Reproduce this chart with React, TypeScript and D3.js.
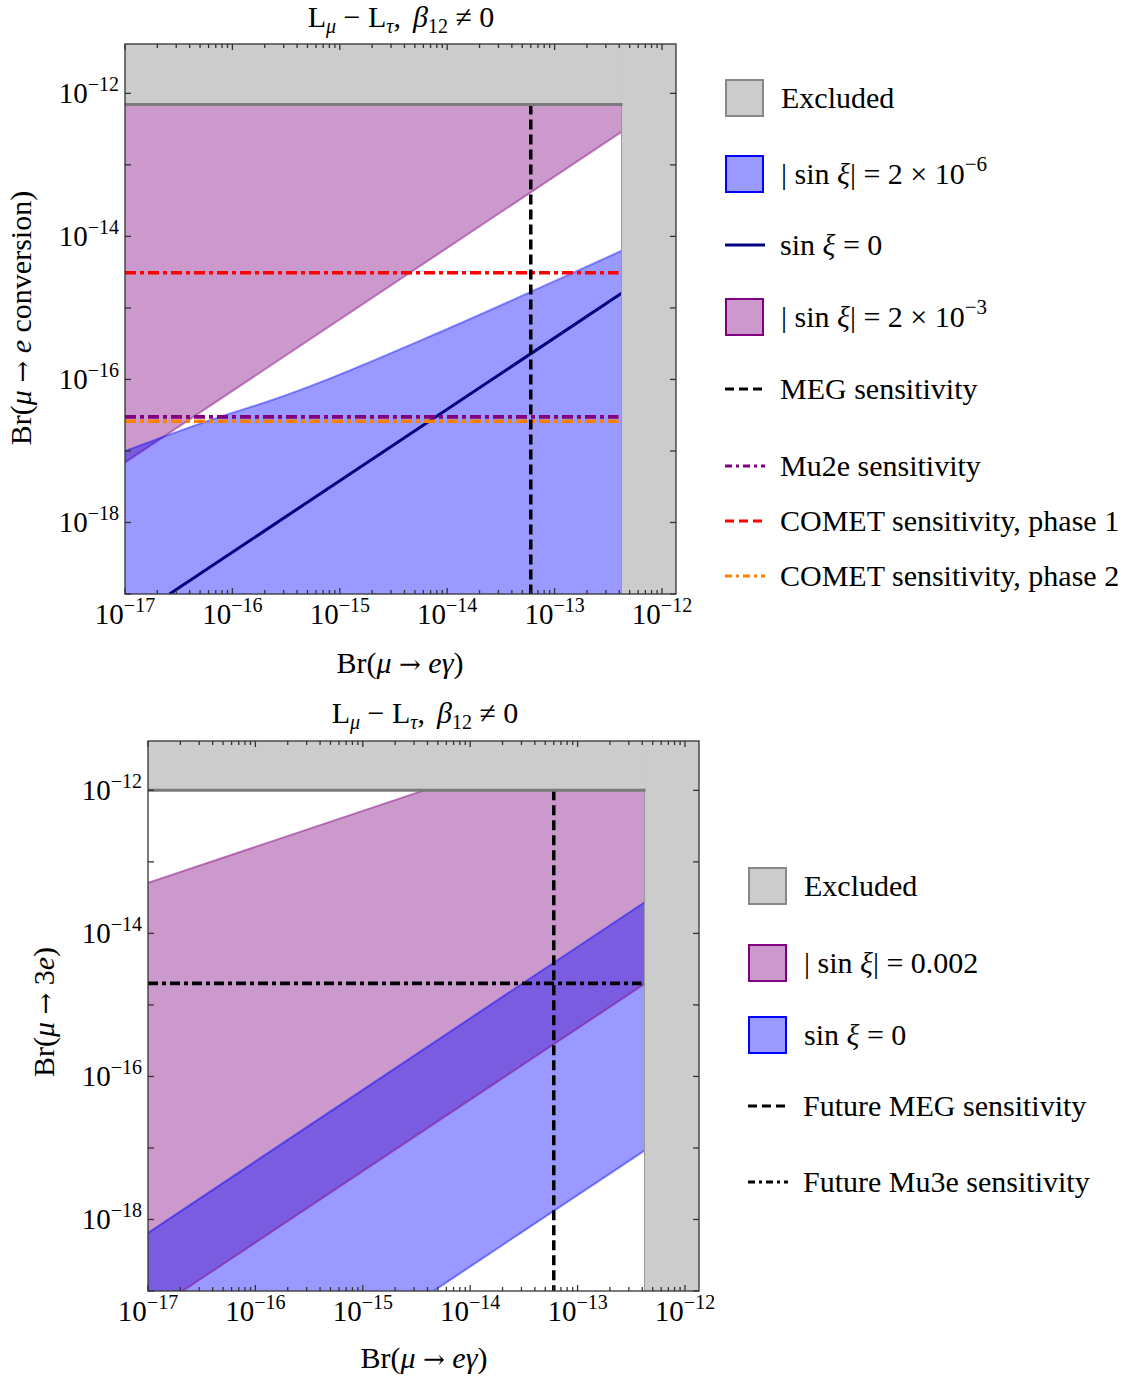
import React from 'react';
import * as d3 from 'd3';

const W = 1136;
const H = 1381;
const FONT = "'Liberation Serif', 'Times New Roman', serif";
const ARROW_FONT = "'DejaVu Serif', serif";

// axis domains and ticks
const xDomain = [1e-17, 1.35e-12];
const yDomain = [1e-19, 4.9e-12];
const xMajorExps = [-17, -16, -15, -14, -13, -12];
const yTickExps = [-19, -18, -17, -16, -15, -14, -13, -12];
const yLabelExps = [-18, -16, -14, -12];
const minorMults = [2, 3, 4, 5, 6, 7, 8, 9];

// experimental limits / sensitivities
const megLimit = 4.2e-13;
const megFuture = 6e-14;
const sindrumConv = 7e-13;
const sindrum3e = 1e-12;
const mu2eSens = 3e-17;
const comet1Sens = 3.1e-15;
const comet2Sens = 2.6e-17;
const mu3eSens = 2e-15;

// top panel: mu -> e conversion
const blueUpperX = [1e-17, 7.4e-17, 2.2e-16, 8.6e-15, 5.9e-14, 4.2e-13];
const blueUpperY = [1.0e-17, 2.95e-17, 5.0e-17, 4.6e-16, 1.66e-15, 6.3e-15];
const navyX = [2.6e-17, 4.2e-13];
const navyY = [1e-19, 1.6e-15];
const purpleLowX = [1e-17, 4.2e-13];
const purpleLowY = [6.9e-18, 2.9e-13];

// bottom panel: mu -> 3e
const purpleUpX = [1e-17, 3.7e-15, 4.2e-13];
const purpleUpY = [5.1e-14, 1e-12, 1e-12];
const purpleLoX = [2.1e-17, 4.2e-13];
const purpleLoY = [1e-19, 1.97e-15];
const blueUpX = [1e-17, 4.2e-13];
const blueUpY = [6.5e-19, 2.73e-14];
const blueLoX = [4.55e-15, 4.2e-13];
const blueLoY = [1e-19, 9.2e-18];

const GRAY = '#cccccc';
const PURPLE_FILL = 'rgba(128,0,128,0.4)';
const BLUE_FILL = 'rgba(0,0,255,0.4)';
const FRAME = '#333333';

const zip = (xs: number[], ys: number[]) => xs.map((x, i) => [x, ys[i]] as [number, number]);

function Pow({ x, y, exp, anchor }: { x: number; y: number; exp: number; anchor: string }) {
  return (
    <text x={x} y={y} fontSize={29} textAnchor={anchor} fontFamily={FONT} fill="#000">
      10
      <tspan fontSize={20} dy={-12}>{'\u2212' + Math.abs(exp)}</tspan>
    </text>
  );
}

function Frame({ x, y, left, top, w, h }: any) {
  const ticks: any[] = [];
  const bottom = top + h;
  const right = left + w;
  xMajorExps.forEach((e) => {
    const v = Math.pow(10, e);
    if (v >= xDomain[0] && v <= xDomain[1]) {
      const px = x(v);
      ticks.push(<line key={'xb' + e} x1={px} x2={px} y1={bottom} y2={bottom - 6} />);
      ticks.push(<line key={'xt' + e} x1={px} x2={px} y1={top} y2={top + 6} />);
    }
    minorMults.forEach((m) => {
      const mv = m * v;
      if (mv > xDomain[0] && mv < xDomain[1]) {
        const mx = x(mv);
        ticks.push(<line key={'mb' + e + m} x1={mx} x2={mx} y1={bottom} y2={bottom - 4} />);
        ticks.push(<line key={'mt' + e + m} x1={mx} x2={mx} y1={top} y2={top + 4} />);
      }
    });
  });
  yTickExps.forEach((e) => {
    const py = y(Math.pow(10, e));
    ticks.push(<line key={'yl' + e} x1={left} x2={left + 6} y1={py} y2={py} />);
    ticks.push(<line key={'yr' + e} x1={right} x2={right - 6} y1={py} y2={py} />);
  });
  return (
    <g stroke={FRAME} strokeWidth={1.3} fill="none">
      {ticks}
      <rect x={left} y={top} width={w} height={h} />
    </g>
  );
}

function Labels({ x, y, left, top, h }: any) {
  const bottom = top + h;
  return (
    <g>
      {xMajorExps.map((e) => (
        <Pow key={'xl' + e} x={x(Math.pow(10, e))} y={bottom + 30} exp={e} anchor="middle" />
      ))}
      {yLabelExps.map((e) => (
        <Pow key={'yl' + e} x={left - 6} y={y(Math.pow(10, e)) + 10} exp={e} anchor="end" />
      ))}
    </g>
  );
}

function Title({ cx, yb }: { cx: number; yb: number }) {
  return (
    <text x={cx} y={yb} fontSize={30} textAnchor="middle" fontFamily={FONT}>
      L<tspan fontSize={20} fontStyle="italic" dy={6}>μ</tspan>
      <tspan dy={-6}> − L</tspan>
      <tspan fontSize={20} fontStyle="italic" dy={6}>τ</tspan>
      <tspan dy={-6}>,</tspan>
      <tspan fontStyle="italic" dx={12}>β</tspan>
      <tspan fontSize={20} dy={6}>12</tspan>
      <tspan dy={-6}> ≠ 0</tspan>
    </text>
  );
}

function XLabel({ cx, yb }: { cx: number; yb: number }) {
  return (
    <text x={cx} y={yb} fontSize={30} textAnchor="middle" fontFamily={FONT}>
      Br(<tspan fontStyle="italic">μ</tspan> <tspan fontFamily={ARROW_FONT} fontSize={26}>→</tspan> <tspan fontStyle="italic">eγ</tspan>)
    </text>
  );
}

function LegendBox({ x, yc, fill, stroke, label }: any) {
  return (
    <g>
      <rect x={x} y={yc - 18} width={37} height={36} fill={fill} stroke={stroke} strokeWidth={2} />
      <text x={x + 55} y={yc + 10} fontSize={30} fontFamily={FONT}>{label}</text>
    </g>
  );
}

function LegendLine({ x, yc, stroke, dash, label }: any) {
  return (
    <g>
      <line x1={x} x2={x + 40} y1={yc} y2={yc} stroke={stroke} strokeWidth={3} strokeDasharray={dash} />
      <text x={x + 55} y={yc + 10} fontSize={30} fontFamily={FONT}>{label}</text>
    </g>
  );
}

const SinXi = ({ value, sup, abs }: any) => (
  <>
    {abs ? '| sin ' : 'sin '}
    <tspan fontStyle="italic">ξ</tspan>
    {abs ? '| = ' : ' = '}
    {value}
    {sup ? <tspan fontSize={21} dy={-13}>{sup}</tspan> : null}
  </>
);

function TopPanel() {
  const left = 125, top = 44, w = 551, h = 550;
  const x = d3.scaleLog().domain(xDomain).range([left, left + w]);
  const y = d3.scaleLog().domain(yDomain).range([top + h, top]);
  const yBot = y(yDomain[0]);
  const line = d3.line<[number, number]>().x((d) => x(d[0])).y((d) => y(d[1]));

  const purpleArea = d3
    .area<[number, number]>()
    .x((d) => x(d[0]))
    .y0(() => y(sindrumConv))
    .y1((d) => y(d[1]))(zip(purpleLowX, purpleLowY)) as string;

  const blueCurve = d3
    .line<[number, number]>()
    .x((d) => x(d[0]))
    .y((d) => y(d[1]))
    .curve(d3.curveMonotoneX);
  const blueArea = d3
    .area<[number, number]>()
    .x((d) => x(d[0]))
    .y0(() => yBot)
    .y1((d) => y(d[1]))
    .curve(d3.curveMonotoneX)(zip(blueUpperX, blueUpperY)) as string;

  const xm = x(megLimit);
  const hLines = [
    { v: comet1Sens, c: '#ff0000' },
    { v: mu2eSens, c: '#800080' },
    { v: comet2Sens, c: '#ff8000' },
  ];

  return (
    <g>
      <defs>
        <clipPath id="clipTop">
          <rect x={left} y={top} width={w} height={h} />
        </clipPath>
      </defs>
      <g clipPath="url(#clipTop)">
        <path d={purpleArea} fill={PURPLE_FILL} />
        <path d={line(zip(purpleLowX, purpleLowY)) as string} stroke="#800080" strokeOpacity={0.45} strokeWidth={2} fill="none" />
        <path d={blueArea} fill={BLUE_FILL} />
        <path d={blueCurve(zip(blueUpperX, blueUpperY)) as string} stroke="#0000ff" strokeOpacity={0.4} strokeWidth={2} fill="none" />
        <path d={line(zip(navyX, navyY)) as string} stroke="#000080" strokeWidth={3} fill="none" />
        {hLines.map((l, i) => (
          <line key={i} x1={left} x2={xm - 3} y1={y(l.v)} y2={y(l.v)} stroke={l.c} strokeWidth={3.6} strokeDasharray="11,4,4,4" />
        ))}
        <line x1={x(megFuture)} x2={x(megFuture)} y1={y(sindrumConv)} y2={yBot} stroke="#000" strokeWidth={3.5} strokeDasharray="10,5" />
        <rect x={left} y={top} width={w} height={y(sindrumConv) - top} fill={GRAY} />
        <rect x={xm} y={top} width={left + w - xm} height={h} fill={GRAY} />
        <line x1={xm} x2={xm} y1={y(sindrumConv)} y2={yBot} stroke="#999" strokeWidth={1} />
        <line x1={left} x2={xm + 1} y1={y(sindrumConv)} y2={y(sindrumConv)} stroke="#7a7a7a" strokeWidth={3} />
      </g>
      <Frame x={x} y={y} left={left} top={top} w={w} h={h} />
      <Labels x={x} y={y} left={left} top={top} h={h} />
      <Title cx={401} yb={27} />
      <XLabel cx={400} yb={673} />
      <text transform="translate(31,318) rotate(-90)" fontSize={30} textAnchor="middle" fontFamily={FONT}>
        Br(<tspan fontStyle="italic">μ</tspan> <tspan fontFamily={ARROW_FONT} fontSize={26}>→</tspan> <tspan fontStyle="italic">e</tspan> conversion)
      </text>
      <LegendBox x={726} yc={98} fill={GRAY} stroke="#888" label="Excluded" />
      <LegendBox x={726} yc={174} fill="#9999ff" stroke="#0000ff" label={<SinXi abs value="2 × 10" sup="−6" />} />
      <LegendLine x={725} yc={245} stroke="#000080" label={<SinXi value="0" />} />
      <LegendBox x={726} yc={317} fill="#cc99cc" stroke="#800080" label={<SinXi abs value="2 × 10" sup="−3" />} />
      <LegendLine x={725} yc={389} stroke="#000" dash="9,5" label="MEG sensitivity" />
      <LegendLine x={725} yc={466} stroke="#800080" dash="7,4,3,4" label="Mu2e sensitivity" />
      <LegendLine x={725} yc={521} stroke="#ff0000" dash="9,5" label="COMET sensitivity, phase 1" />
      <LegendLine x={725} yc={576} stroke="#ff8000" dash="7,4,3,4" label="COMET sensitivity, phase 2" />
    </g>
  );
}

function BottomPanel() {
  const left = 148, top = 741, w = 551, h = 550;
  const x = d3.scaleLog().domain(xDomain).range([left, left + w]);
  const y = d3.scaleLog().domain(yDomain).range([top + h, top]);
  const yBot = y(yDomain[0]);
  const line = d3.line<[number, number]>().x((d) => x(d[0])).y((d) => y(d[1]));

  const purplePoly = [
    ...zip(purpleUpX, purpleUpY),
    ...zip(purpleLoX, purpleLoY).reverse(),
    [xDomain[0], yDomain[0]] as [number, number],
  ];
  const bluePoly = [
    ...zip(blueUpX, blueUpY),
    ...zip(blueLoX, blueLoY).reverse(),
    [xDomain[0], yDomain[0]] as [number, number],
  ];
  const xm = x(megLimit);

  return (
    <g>
      <defs>
        <clipPath id="clipBot">
          <rect x={left} y={top} width={w} height={h} />
        </clipPath>
      </defs>
      <g clipPath="url(#clipBot)">
        <path d={(line(purplePoly) as string) + 'Z'} fill={PURPLE_FILL} />
        <path d={line(zip(purpleUpX.slice(0, 2), purpleUpY.slice(0, 2))) as string} stroke="#800080" strokeOpacity={0.45} strokeWidth={2} fill="none" />
        <path d={(line(bluePoly) as string) + 'Z'} fill={BLUE_FILL} />
        <path d={line(zip(purpleLoX, purpleLoY)) as string} stroke="#800080" strokeOpacity={0.45} strokeWidth={2} fill="none" />
        <path d={line(zip(blueUpX, blueUpY)) as string} stroke="#0000ff" strokeOpacity={0.45} strokeWidth={2} fill="none" />
        <path d={line(zip(blueLoX, blueLoY)) as string} stroke="#0000ff" strokeOpacity={0.45} strokeWidth={2} fill="none" />
        <line x1={left} x2={xm - 3} y1={y(mu3eSens)} y2={y(mu3eSens)} stroke="#000" strokeWidth={3.6} strokeDasharray="10,4,4,4" />
        <line x1={x(megFuture)} x2={x(megFuture)} y1={y(sindrum3e)} y2={yBot} stroke="#000" strokeWidth={3.5} strokeDasharray="10,5" />
        <rect x={left} y={top} width={w} height={y(sindrum3e) - top} fill={GRAY} />
        <rect x={xm} y={top} width={left + w - xm} height={h} fill={GRAY} />
        <line x1={xm} x2={xm} y1={y(sindrum3e)} y2={yBot} stroke="#999" strokeWidth={1} />
        <line x1={left} x2={xm + 1} y1={y(sindrum3e)} y2={y(sindrum3e)} stroke="#7a7a7a" strokeWidth={3} />
      </g>
      <Frame x={x} y={y} left={left} top={top} w={w} h={h} />
      <Labels x={x} y={y} left={left} top={top} h={h} />
      <Title cx={425} yb={723} />
      <XLabel cx={424} yb={1368} />
      <text transform="translate(54,1012) rotate(-90)" fontSize={30} textAnchor="middle" fontFamily={FONT}>
        Br(<tspan fontStyle="italic">μ</tspan> <tspan fontFamily={ARROW_FONT} fontSize={26}>→</tspan> 3<tspan fontStyle="italic">e</tspan>)
      </text>
      <LegendBox x={749} yc={886} fill={GRAY} stroke="#888" label="Excluded" />
      <LegendBox x={749} yc={963} fill="#cc99cc" stroke="#800080" label={<SinXi abs value="0.002" />} />
      <LegendBox x={749} yc={1035} fill="#9999ff" stroke="#0000ff" label={<SinXi value="0" />} />
      <LegendLine x={748} yc={1106} stroke="#000" dash="9,5" label="Future MEG sensitivity" />
      <LegendLine x={748} yc={1182} stroke="#000" dash="7,4,3,4" label="Future Mu3e sensitivity" />
    </g>
  );
}

export default function App() {
  return (
    <svg width={W} height={H} style={{ position: 'absolute', left: 0, top: 0, background: '#fff' }} fontFamily={FONT}>
      <rect width={W} height={H} fill="#fff" />
      <TopPanel />
      <BottomPanel />
    </svg>
  );
}
